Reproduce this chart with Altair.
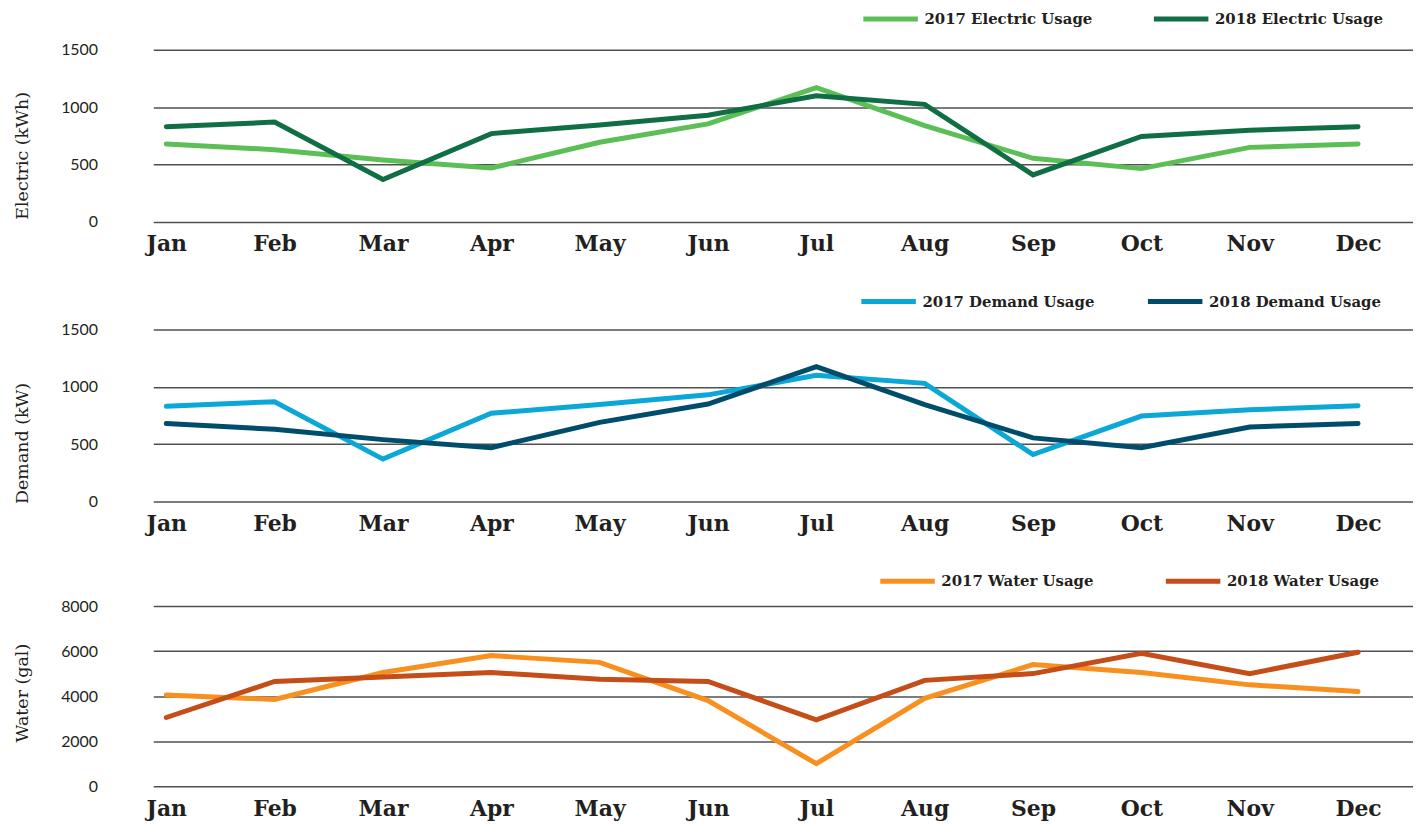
import altair as alt
import pandas as pd

months = ["Jan", "Feb", "Mar", "Apr", "May", "Jun", "Jul", "Aug", "Sep", "Oct", "Nov", "Dec"]

elec_2017 = [680, 630, 540, 470, 695, 855, 1170, 840, 555, 465, 650, 680]
elec_2018 = [830, 870, 370, 770, 845, 930, 1100, 1025, 410, 745, 800, 830]
demand_2017 = [830, 870, 370, 770, 845, 930, 1100, 1030, 410, 745, 800, 835]
demand_2018 = [680, 630, 540, 470, 690, 850, 1175, 845, 555, 470, 650, 680]
water_2017 = [4050, 3850, 5050, 5800, 5500, 3800, 1000, 3900, 5400, 5050, 4500, 4200]
water_2018 = [3050, 4650, 4850, 5050, 4750, 4650, 2950, 4700, 5000, 5900, 5000, 5950]

panels = [
    ("Electric (kWh)", "2017 Electric Usage", "2018 Electric Usage", elec_2017, elec_2018,
     ["#5cbf55", "#0f6e44"], [0, 500, 1000, 1500], 1500, 173, 711, -61, 51, 106),
    ("Demand (kW)", "2017 Demand Usage", "2018 Demand Usage", demand_2017, demand_2018,
     ["#0aa7d7", "#004d6b"], [0, 500, 1000, 1500], 1500, 173, 709, -58, 42, 114),
    ("Water (gal)", "2017 Water Usage", "2018 Water Usage", water_2017, water_2018,
     ["#f7901e", "#c44d18"], [0, 2000, 4000, 6000, 8000], 8000, 181, 728, -55, 61, 87),
]

label_expr = "[" + ",".join("'%s'" % m for m in months) + "][datum.value]"

SERIF = "DejaVu Serif"

charts = []
for title, s1, s2, v1, v2, colors, ticks, ymax, h, lx, ly, cp, ty in panels:
    rows = []
    for i, m in enumerate(months):
        rows.append({"idx": i, "month": m, "value": v1[i], "series": s1})
    for i, m in enumerate(months):
        rows.append({"idx": i, "month": m, "value": v2[i], "series": s2})
    df = pd.DataFrame(rows)
    c = alt.Chart(df).mark_line(strokeWidth=5, strokeCap="round", strokeJoin="miter").encode(
        x=alt.X("idx:Q",
                scale=alt.Scale(domain=[-0.12, 11.507], nice=False, zero=False),
                axis=alt.Axis(values=list(range(12)), labelExpr=label_expr, title=None,
                              grid=False, domain=False, ticks=False,
                              labelFont=SERIF, labelFontWeight="bold", labelFontSize=22,
                              labelColor="#231f20", labelPadding=12, labelFlush=False)),
        y=alt.Y("value:Q",
                scale=alt.Scale(domain=[0, ymax], nice=False),
                axis=alt.Axis(values=ticks, format="d", title=title, titleFont=SERIF,
                              titleFontWeight="normal", titleY=ty,
                              titleFontSize=17.5, titleColor="#231f20", titlePadding=29,
                              labelFont="Lato", labelFontSize=16, labelColor="#231f20",
                              labelPadding=56, domain=False, ticks=False,
                              grid=True, gridColor="#505050", gridWidth=1.5)),
        color=alt.Color("series:N",
                        scale=alt.Scale(domain=[s1, s2], range=colors),
                        legend=alt.Legend(title=None, orient="none", legendX=lx, legendY=ly,
                                          direction="horizontal", symbolType="stroke",
                                          symbolStrokeWidth=5, symbolSize=3000,
                                          labelFont=SERIF, labelFontWeight="bold",
                                          labelFontSize=15, labelColor="#231f20",
                                          labelLimit=0, columnPadding=cp, labelOffset=4)),
        order="idx:Q",
    ).properties(width=1266, height=h)
    charts.append(c)

chart = alt.vconcat(*charts, spacing=17).resolve_scale(
    color="independent", y="independent"
).configure_view(stroke=None).properties(
    padding={"left": 5, "top": -21, "right": 0, "bottom": 5}
)

chart.save("out.html", embed_options={"renderer": "svg", "actions": False})
